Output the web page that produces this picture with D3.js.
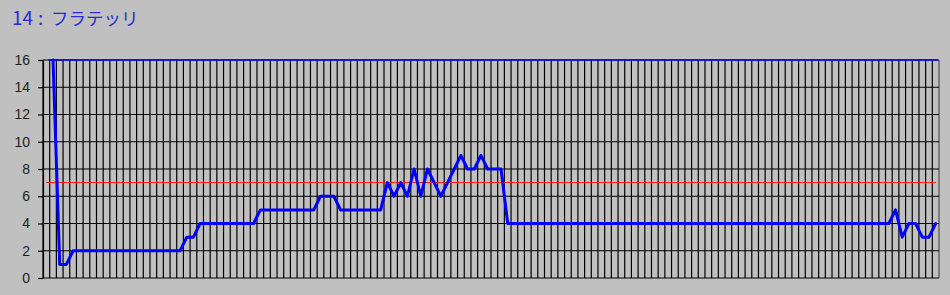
<!DOCTYPE html>
<html>
<head>
<meta charset="utf-8">
<script src="https://cdn.jsdelivr.net/npm/d3@7"></script>
<style>
  html, body { margin: 0; padding: 0; background: #c0c0c0; }
  svg { display: block; }
</style>
</head>
<body>
<div id="chart"></div>
<script>
const TITLE_NUM = "14"
const TITLE_NAME = "フラテッリ"

// one value per column (first column empty)
const values = [
  null, 16, 1, 1, 2, 2, 2, 2, 2, 2, 2, 2, 2, 2, 2, 2, 2, 2, 2, 2,
  2, 3, 3, 4, 4, 4, 4, 4, 4, 4, 4, 4, 5, 5, 5, 5, 5, 5, 5, 5,
  5, 6, 6, 6, 5, 5, 5, 5, 5, 5, 5, 7, 6, 7, 6, 8, 6, 8, 7, 6,
  7, 8, 9, 8, 8, 9, 8, 8, 8, 4, 4, 4, 4, 4, 4, 4, 4, 4, 4, 4,
  4, 4, 4, 4, 4, 4, 4, 4, 4, 4, 4, 4, 4, 4, 4, 4, 4, 4, 4, 4,
  4, 4, 4, 4, 4, 4, 4, 4, 4, 4, 4, 4, 4, 4, 4, 4, 4, 4, 4, 4,
  4, 4, 4, 4, 4, 4, 4, 5, 3, 4, 4, 3, 3, 4
]
const limitLine = 7
const upperLine = 16
const yTicks = [0, 2, 4, 6, 8, 10, 12, 14, 16]

const width = 950
const height = 295
const plotLeft = 43
const plotRight = 939
const plotTop = 60
const plotBottom = 278

const svg = d3.select("#chart")
  .append("svg")
  .attr("width", width)
  .attr("height", height)
  .style("background", "#c0c0c0")

const x = d3.scaleBand()
  .domain(d3.range(values.length))
  .range([plotLeft, plotRight])
  .padding(0)
const cx = i => x(i) + x.bandwidth() / 2

const y = d3.scaleLinear()
  .domain([0, 16])
  .range([plotBottom, plotTop])

// Title: number and name set a little apart, like the original
const title = svg.append("text")
  .attr("y", 25)
  .attr("fill", "#2b2bd4")
  .style("font-family", "'Noto Sans CJK JP', 'Noto Sans', sans-serif")
title.append("tspan").attr("x", 12).style("font-size", "19px").text(TITLE_NUM)
title.append("tspan").attr("x", 38).style("font-size", "19px").text(":")
title.append("tspan").attr("x", 51).style("font-size", "17.5px").text(TITLE_NAME)

// Grid
const grid = svg.append("g")
  .attr("stroke", "#000")

grid.selectAll(".vline")
  .data(d3.range(values.length + 1))
  .enter()
  .append("line")
  .attr("class", "vline")
  .attr("x1", i => i < values.length ? x(i) : plotRight)
  .attr("x2", i => i < values.length ? x(i) : plotRight)
  .attr("y1", plotTop)
  .attr("y2", plotBottom)
  .attr("stroke-width", 1.2)
  .attr("stroke", i => i === values.length ? "#505050" : "#000")

grid.selectAll(".hline")
  .data(yTicks)
  .enter()
  .append("line")
  .attr("class", "hline")
  .attr("x1", plotLeft)
  .attr("x2", plotRight)
  .attr("y1", d => y(d))
  .attr("y2", d => y(d))
  .attr("stroke-width", 1.2)

// Y axis with short ticks out to the left
const yAxis = svg.append("g")
  .attr("transform", `translate(${plotLeft},0)`)
  .call(d3.axisLeft(y).tickValues(yTicks).tickSizeInner(5).tickSizeOuter(0).tickPadding(8))

yAxis.selectAll("path, line")
  .attr("stroke", "#000")
  .attr("stroke-width", 1.2)
yAxis.selectAll("text")
  .attr("fill", "#1e1e1e")
  .style("font-family", "'Liberation Sans', Arial, sans-serif")
  .style("font-size", "14px")

// Reference lines
svg.append("line")
  .attr("x1", cx(0))
  .attr("x2", cx(values.length - 1))
  .attr("y1", y(limitLine))
  .attr("y2", y(limitLine))
  .attr("stroke", "#ff1a1a")
  .attr("stroke-width", 1)
  .attr("shape-rendering", "crispEdges")

svg.append("line")
  .attr("x1", cx(0) + 2)
  .attr("x2", plotRight - 1)
  .attr("y1", y(upperLine))
  .attr("y2", y(upperLine))
  .attr("stroke", "#0000ff")
  .attr("stroke-width", 1.5)

// Series
const line = d3.line()
  .defined(d => d !== null)
  .x((_, i) => cx(i))
  .y(d => y(d))

svg.append("path")
  .datum(values)
  .attr("d", line)
  .attr("fill", "none")
  .attr("stroke", "#0000ff")
  .attr("stroke-width", 3)
  .attr("stroke-linejoin", "round")
  .attr("stroke-linecap", "round")
</script>
</body>
</html>
